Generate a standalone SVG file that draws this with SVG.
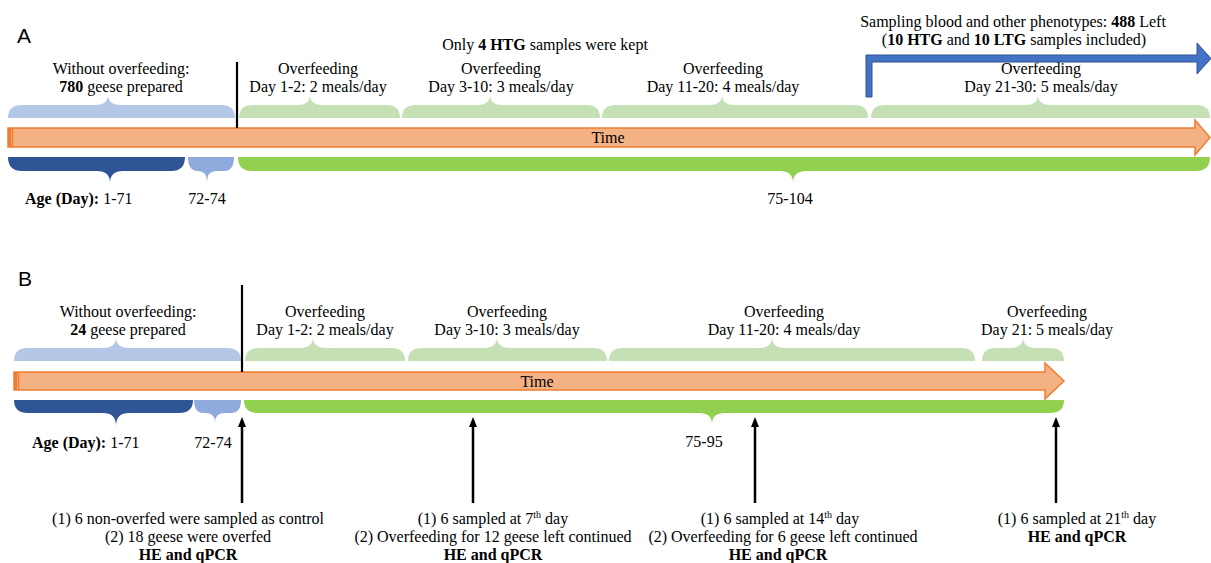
<svg xmlns="http://www.w3.org/2000/svg" width="1211" height="563" viewBox="0 0 1211 563" font-family="'Liberation Serif', 'Times New Roman', 'DejaVu Serif', serif">
<style>
text{font-family:'Liberation Serif','Times New Roman','DejaVu Serif',serif;font-size:16px;fill:#000;text-anchor:middle}
text.lbl{font-family:'Liberation Sans',Arial,sans-serif;font-size:21px;text-anchor:start}
.b{font-weight:bold}
.sup{font-size:10px}
.lb{fill:#b4c7e7}
.lg{fill:#c5e0b4}
.db{fill:#2f5597}
.mb{fill:#8faadc}
.gr{fill:#92d050}
.time{fill:#f4b183;stroke:#ed7d31;stroke-width:1.5}
.vline{stroke:#000;stroke-width:2.2}
.arr{stroke:#000;stroke-width:2.5;marker-end:url(#ah)}
</style>
<defs>
<marker id="ah" markerUnits="userSpaceOnUse" markerWidth="10" markerHeight="8" refX="1" refY="4" orient="auto" viewBox="0 0 10 8">
<path d="M0,0 L10,4 L0,8 Z" fill="#000"/>
</marker>
</defs>

<!-- Panel A -->
<text class="lbl" x="17" y="43">A</text>

<g id="A-time">
<path class="time" d="M8,128 L1195,128 L1195,120 L1210,137.5 L1195,155 L1195,147 L8,147 Z"/>
<rect x="8" y="128" width="3" height="19" fill="#ed7d31"/>
<line x1="12.5" y1="128" x2="12.5" y2="147" stroke="#ed7d31" stroke-width="1.5"/>
<text x="608" y="143">Time</text>
</g>

<g id="A-pre">
<path class="lb" d="M8,118 Q8,105 22,105 L95,105 Q108,105 108,95 Q108,105 121,105 L221,105 Q235,105 235,118 Z"/>
<text x="121" y="74">Without overfeeding:</text>
<text x="121" y="92"><tspan class="b">780</tspan> geese prepared</text>
</g>

<g id="A-of1">
<path class="lg" d="M239,118 Q239,105 253,105 L297,105 Q310,105 310,95 Q310,105 323,105 L386,105 Q400,105 400,118 Z"/>
<text x="318" y="74">Overfeeding</text>
<text x="318" y="92">Day 1-2: 2 meals/day</text>
</g>

<g id="A-of2">
<path class="lg" d="M402,118 Q402,105 416,105 L477,105 Q490,105 490,95 Q490,105 503,105 L586,105 Q600,105 600,118 Z"/>
<text x="545" y="50">Only <tspan class="b">4 HTG</tspan> samples were kept</text>
<text x="501" y="74">Overfeeding</text>
<text x="501" y="92">Day 3-10: 3 meals/day</text>
</g>

<g id="A-of3">
<path class="lg" d="M602,118 Q602,105 616,105 L709,105 Q722,105 722,95 Q722,105 735,105 L854,105 Q868,105 868,118 Z"/>
<text x="723" y="74">Overfeeding</text>
<text x="723" y="92">Day 11-20: 4 meals/day</text>
</g>

<g id="A-of4">
<path class="lg" d="M871,118 Q871,105 885,105 L1025,105 Q1038,105 1038,95 Q1038,105 1051,105 L1196,105 Q1210,105 1210,118 Z"/>
<text x="1041" y="74">Overfeeding</text>
<text x="1041" y="92">Day 21-30: 5 meals/day</text>
</g>

<g id="A-sampling">
<text x="1013" y="27">Sampling blood and other phenotypes: <tspan class="b">488</tspan> Left</text>
<text x="1014" y="45">(<tspan class="b">10 HTG</tspan> and <tspan class="b">10 LTG</tspan> samples included)</text>
</g>

<g id="A-age1">
<path class="db" d="M8,157 Q8,171 22,171 L97,171 Q110,171 110,183 Q110,171 123,171 L171,171 Q185,171 185,157 Z"/>
<text x="25" y="204" style="text-anchor:start"><tspan class="b">Age (Day):</tspan> 1-71</text>
</g>
<g id="A-age2">
<path class="mb" d="M188,157 Q188,171 198,171 Q207,171 207,182 Q207,171 216,171 L224,171 Q234,171 234,157 Z"/>
<text x="207" y="204">72-74</text>
</g>
<g id="A-age3">
<path class="gr" d="M238,157 Q238,171 252,171 L780,171 Q793,171 793,183 Q793,171 806,171 L1196,171 Q1210,171 1210,157 Z"/>
<text x="790" y="204">75-104</text>
</g>

<!-- Panel B -->
<text class="lbl" x="18" y="286">B</text>

<g id="B-time">
<path class="time" d="M14,372 L1045,372 L1045,363 L1064,381 L1045,399 L1045,390 L14,390 Z"/>
<rect x="14" y="372" width="3" height="18" fill="#ed7d31"/>
<line x1="18.5" y1="372" x2="18.5" y2="390" stroke="#ed7d31" stroke-width="1.5"/>
<text x="537" y="387">Time</text>
</g>

<g id="B-pre">
<path class="lb" d="M14,361 Q14,348 28,348 L103,348 Q116,348 116,337 Q116,348 129,348 L227,348 Q241,348 241,361 Z"/>
<text x="128" y="317">Without overfeeding:</text>
<text x="128" y="335"><tspan class="b">24</tspan> geese prepared</text>
</g>

<g id="B-of1">
<path class="lg" d="M245,361 Q245,348 259,348 L300,348 Q313,348 313,337 Q313,348 326,348 L391,348 Q405,348 405,361 Z"/>
<text x="325" y="317">Overfeeding</text>
<text x="325" y="335">Day 1-2: 2 meals/day</text>
</g>

<g id="B-of2">
<path class="lg" d="M408,361 Q408,348 422,348 L484,348 Q497,348 497,337 Q497,348 510,348 L593,348 Q607,348 607,361 Z"/>
<text x="507" y="317">Overfeeding</text>
<text x="507" y="335">Day 3-10: 3 meals/day</text>
</g>

<g id="B-of3">
<path class="lg" d="M609,361 Q609,348 623,348 L759,348 Q772,348 772,337 Q772,348 785,348 L961,348 Q975,348 975,361 Z"/>
<text x="784" y="317">Overfeeding</text>
<text x="784" y="335">Day 11-20: 4 meals/day</text>
</g>

<g id="B-of4">
<path class="lg" d="M982,361 Q982,348 996,348 L1010,348 Q1023,348 1023,337 Q1023,348 1036,348 L1050,348 Q1064,348 1064,361 Z"/>
<text x="1047" y="317">Overfeeding</text>
<text x="1047" y="335">Day 21: 5 meals/day</text>
</g>

<g id="B-age1">
<path class="db" d="M14,400 Q14,413 28,413 L103,413 Q116,413 116,426 Q116,413 129,413 L179,413 Q193,413 193,400 Z"/>
<text x="32" y="448" style="text-anchor:start"><tspan class="b">Age (Day):</tspan> 1-71</text>
</g>
<g id="B-age2">
<path class="mb" d="M194,400 Q194,413 204,413 L206,413 Q215,413 215,423 Q215,413 224,413 L231,413 Q241,413 241,400 Z"/>
<text x="213" y="448">72-74</text>
</g>
<g id="B-age3">
<path class="gr" d="M244,400 Q244,413 258,413 L699,413 Q712,413 712,424 Q712,413 725,413 L1050,413 Q1064,413 1064,400 Z"/>
<text x="704" y="447">75-95</text>
</g>

<g id="B-s1">
<text x="188" y="524">(1) 6 non-overfed were sampled as control</text>
<text x="188" y="542">(2) 18 geese were overfed</text>
<text x="188" y="560" class="b">HE and qPCR</text>
</g>
<g id="B-s2">
<text x="493" y="524">(1) 6 sampled at 7<tspan class="sup" dy="-6">th</tspan><tspan dy="6"> day</tspan></text>
<text x="493" y="542">(2) Overfeeding for 12 geese left continued</text>
<text x="493" y="560" class="b">HE and qPCR</text>
</g>
<g id="B-s3">
<text x="780" y="524">(1) 6 sampled at 14<tspan class="sup" dy="-6">th</tspan><tspan dy="6"> day</tspan></text>
<text x="783" y="542">(2) Overfeeding for 6 geese left continued</text>
<text x="778" y="560" class="b">HE and qPCR</text>
</g>
<g id="B-s4">
<text x="1077" y="524">(1) 6 sampled at 21<tspan class="sup" dy="-6">th</tspan><tspan dy="6"> day</tspan></text>
<text x="1077" y="542" class="b">HE and qPCR</text>
</g>

<g id="connectors">
<line class="vline" x1="237" y1="62" x2="237" y2="128"/>
<line class="vline" x1="242" y1="285" x2="242" y2="372"/>
<path d="M866,97 L866,55 L1197,55 L1197,43 L1211,58.5 L1197,74 L1197,62 L872,62 L872,97 Z" fill="#4472c4" stroke="#2f528f" stroke-width="1"/>
<line class="arr" x1="242" y1="503" x2="242" y2="426"/>
<line class="arr" x1="473" y1="503" x2="473" y2="426"/>
<line class="arr" x1="755" y1="503" x2="755" y2="426"/>
<line class="arr" x1="1056" y1="503" x2="1056" y2="426"/>
</g>
</svg>
